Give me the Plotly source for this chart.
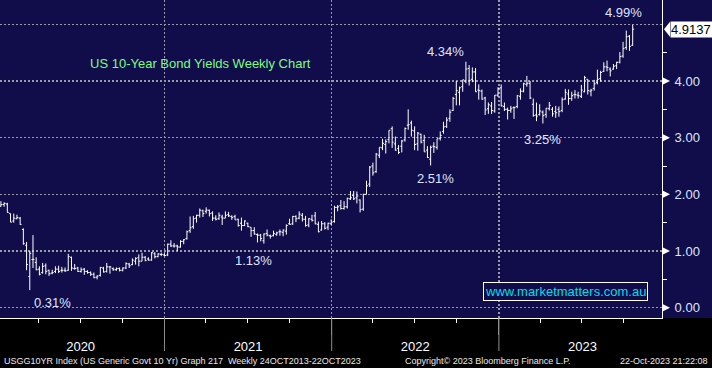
import pandas as pd
import plotly.graph_objects as go

# ---------------- data (weekly bars, week ending Friday) ----------------
weeks = pd.date_range("2020-01-10", periods=198, freq="W-FRI")

open_ = (
    # 2020
    [1.79, 1.82, 1.83, 1.66, 1.53, 1.57, 1.58, 1.38, 1.10, 0.55, 0.85, 0.80, 0.68, 0.62, 0.74, 0.66, 0.61,
     0.64, 0.68, 0.66, 0.66, 0.66, 0.89, 0.69, 0.70, 0.64, 0.68, 0.64, 0.62, 0.59, 0.54, 0.57, 0.70, 0.64,
     0.72, 0.69, 0.67, 0.69, 0.66, 0.70, 0.77, 0.76, 0.82, 0.88, 0.82, 0.89, 0.86, 0.84, 0.95, 0.90, 0.94]
    # 2021
    + [0.93, 0.93, 1.12, 1.09, 1.09, 1.07, 1.17, 1.22, 1.36, 1.43, 1.58, 1.63, 1.71, 1.70, 1.72, 1.67, 1.58,
       1.57, 1.60, 1.58, 1.64, 1.61, 1.61, 1.56, 1.49, 1.45, 1.49, 1.42, 1.36, 1.29, 1.28, 1.18, 1.31, 1.27,
       1.27, 1.29, 1.34, 1.33, 1.35, 1.48, 1.48, 1.61, 1.58, 1.63, 1.56, 1.46, 1.56, 1.62, 1.47, 1.37, 1.48,
       1.42, 1.48]
    # 2022
    + [1.52, 1.77, 1.80, 1.75, 1.78, 1.92, 1.98, 1.94, 1.90, 1.74, 2.00, 2.18, 2.50, 2.40, 2.69, 2.82, 2.88,
       2.97, 3.16, 2.89, 2.81, 2.85, 2.96, 3.22, 3.26, 3.12, 2.89, 3.06, 2.95, 2.78, 2.62, 2.85, 2.83, 2.99,
       3.11, 3.20, 3.34, 3.48, 3.76, 3.80, 3.90, 4.00, 4.22, 4.03, 4.16, 3.84, 3.82, 3.70, 3.51, 3.56, 3.47,
       3.75]
    # 2023
    + [3.88, 3.55, 3.50, 3.48, 3.53, 3.55, 3.73, 3.82, 3.94, 3.96, 3.59, 3.40, 3.41, 3.45, 3.41, 3.51, 3.50,
       3.46, 3.50, 3.48, 3.68, 3.77, 3.69, 3.76, 3.75, 3.73, 3.81, 4.03, 3.82, 3.87, 3.97, 4.04, 4.17, 4.25,
       4.21, 4.21, 4.27, 4.33, 4.44, 4.59, 4.79, 4.63]
)

high = (
    [1.88, 1.86, 1.85, 1.66, 1.66, 1.64, 1.60, 1.40, 1.16, 1.00, 1.28, 0.89, 0.73, 0.79, 0.78, 0.67, 0.67,
     0.73, 0.74, 0.72, 0.71, 0.95, 0.90, 0.77, 0.72, 0.71, 0.70, 0.66, 0.64, 0.62, 0.57, 0.72, 0.72, 0.79,
     0.73, 0.71, 0.71, 0.71, 0.71, 0.80, 0.79, 0.87, 0.89, 0.94, 0.97, 0.91, 0.89, 0.98, 0.98, 0.96, 0.97]
    + [0.96, 1.13, 1.19, 1.14, 1.11, 1.19, 1.21, 1.36, 1.61, 1.62, 1.64, 1.75, 1.73, 1.77, 1.73, 1.70, 1.63,
       1.68, 1.64, 1.70, 1.69, 1.63, 1.64, 1.57, 1.59, 1.54, 1.50, 1.42, 1.42, 1.31, 1.30, 1.31, 1.38, 1.29,
       1.36, 1.34, 1.38, 1.38, 1.47, 1.57, 1.62, 1.63, 1.70, 1.67, 1.62, 1.58, 1.64, 1.69, 1.52, 1.53, 1.51,
       1.50, 1.56]
    + [1.80, 1.81, 1.90, 1.88, 1.94, 2.06, 2.06, 2.05, 1.91, 2.01, 2.24, 2.50, 2.56, 2.73, 2.83, 2.98, 2.97,
       3.13, 3.20, 3.02, 2.87, 2.96, 3.18, 3.50, 3.30, 3.20, 3.10, 3.07, 3.05, 2.85, 2.86, 2.92, 2.98, 3.11,
       3.28, 3.36, 3.50, 3.72, 4.00, 3.90, 4.02, 4.34, 4.28, 4.24, 4.23, 3.94, 3.85, 3.72, 3.62, 3.63, 3.75,
       3.89]
    + [3.94, 3.62, 3.53, 3.56, 3.55, 3.75, 3.87, 3.97, 4.09, 4.00, 3.69, 3.62, 3.59, 3.48, 3.52, 3.63, 3.54,
       3.56, 3.55, 3.71, 3.86, 3.85, 3.81, 3.84, 3.81, 3.93, 4.09, 4.03, 3.86, 4.02, 4.20, 4.18, 4.33, 4.36,
       4.24, 4.30, 4.34, 4.51, 4.69, 4.89, 4.81, 4.99]
)

low = (
    [1.78, 1.78, 1.68, 1.51, 1.50, 1.56, 1.46, 1.11, 0.66, 0.31, 0.70, 0.66, 0.57, 0.60, 0.59, 0.56, 0.59,
     0.61, 0.61, 0.62, 0.63, 0.65, 0.65, 0.67, 0.63, 0.62, 0.58, 0.60, 0.56, 0.52, 0.50, 0.55, 0.62, 0.62,
     0.60, 0.65, 0.65, 0.64, 0.64, 0.68, 0.70, 0.75, 0.76, 0.73, 0.82, 0.82, 0.83, 0.83, 0.87, 0.89, 0.91]
    + [0.91, 0.91, 1.07, 1.06, 1.00, 1.06, 1.12, 1.20, 1.32, 1.39, 1.50, 1.59, 1.60, 1.66, 1.61, 1.53, 1.54,
       1.55, 1.46, 1.58, 1.60, 1.55, 1.55, 1.43, 1.36, 1.44, 1.42, 1.25, 1.29, 1.15, 1.17, 1.13, 1.26, 1.22,
       1.26, 1.27, 1.27, 1.26, 1.29, 1.47, 1.46, 1.51, 1.56, 1.52, 1.43, 1.42, 1.52, 1.47, 1.33, 1.36, 1.38,
       1.37, 1.46]
    + [1.50, 1.70, 1.73, 1.73, 1.75, 1.90, 1.90, 1.84, 1.68, 1.71, 2.00, 2.13, 2.33, 2.38, 2.64, 2.78, 2.72,
       2.90, 2.82, 2.77, 2.71, 2.74, 2.93, 3.14, 3.02, 2.78, 2.77, 2.90, 2.75, 2.64, 2.51, 2.73, 2.79, 2.95,
       3.07, 3.17, 3.28, 3.47, 3.57, 3.57, 3.81, 3.96, 3.92, 3.98, 3.81, 3.67, 3.67, 3.40, 3.42, 3.42, 3.44,
       3.72]
    + [3.55, 3.47, 3.32, 3.44, 3.33, 3.52, 3.67, 3.80, 3.90, 3.68, 3.37, 3.29, 3.39, 3.25, 3.35, 3.48, 3.37,
       3.35, 3.37, 3.45, 3.67, 3.58, 3.65, 3.69, 3.69, 3.70, 3.80, 3.76, 3.73, 3.83, 3.94, 3.99, 4.16, 4.17,
       4.08, 4.20, 4.21, 4.31, 4.41, 4.55, 4.53, 4.62]
)

close = (
    [1.82, 1.84, 1.68, 1.51, 1.58, 1.59, 1.47, 1.13, 0.76, 0.96, 0.85, 0.67, 0.59, 0.73, 0.64, 0.60, 0.62,
     0.68, 0.64, 0.66, 0.65, 0.90, 0.70, 0.69, 0.64, 0.67, 0.64, 0.62, 0.59, 0.53, 0.56, 0.71, 0.63, 0.72,
     0.72, 0.67, 0.69, 0.66, 0.70, 0.78, 0.74, 0.84, 0.87, 0.82, 0.89, 0.83, 0.84, 0.97, 0.90, 0.95, 0.94]
    + [0.92, 1.12, 1.09, 1.09, 1.07, 1.17, 1.20, 1.34, 1.41, 1.57, 1.63, 1.72, 1.66, 1.72, 1.66, 1.58, 1.56,
       1.63, 1.58, 1.63, 1.62, 1.59, 1.55, 1.45, 1.45, 1.53, 1.43, 1.36, 1.30, 1.28, 1.22, 1.30, 1.28, 1.26,
       1.31, 1.32, 1.34, 1.37, 1.45, 1.47, 1.61, 1.57, 1.65, 1.56, 1.45, 1.57, 1.54, 1.48, 1.34, 1.48, 1.40,
       1.49, 1.51]
    + [1.77, 1.78, 1.75, 1.78, 1.93, 1.94, 1.92, 1.97, 1.73, 2.00, 2.15, 2.48, 2.38, 2.71, 2.83, 2.90, 2.93,
       3.13, 2.92, 2.78, 2.74, 2.94, 3.16, 3.23, 3.13, 2.88, 3.08, 2.92, 2.75, 2.65, 2.83, 2.84, 2.98, 3.04,
       3.19, 3.31, 3.45, 3.69, 3.83, 3.88, 4.02, 4.21, 4.01, 4.16, 3.81, 3.83, 3.68, 3.49, 3.58, 3.48, 3.75,
       3.87]
    + [3.56, 3.50, 3.48, 3.51, 3.53, 3.74, 3.82, 3.95, 3.96, 3.70, 3.39, 3.38, 3.47, 3.39, 3.52, 3.57, 3.42,
       3.44, 3.46, 3.67, 3.80, 3.69, 3.74, 3.76, 3.74, 3.84, 4.06, 3.83, 3.84, 3.95, 4.03, 4.15, 4.25, 4.24,
       4.18, 4.26, 4.33, 4.43, 4.57, 4.78, 4.61, 4.9137]
)

# labelled turning points: (week, which price)
label_points = [("2020-03-13", "low"), ("2021-08-06", "low"), ("2022-08-05", "low"),
                ("2022-10-21", "high"), ("2023-04-07", "low"), ("2023-10-20", "high")]
label_offsets = {"2020-03-13": (23, -3), "2021-08-06": (-10, -7), "2022-08-05": (5, -4),
                 "2022-10-21": (-20, 1), "2023-04-07": (0, -7), "2023-10-20": (-9, 3)}

y_ticks = [0, 1, 2, 3, 4, 5]
y_labels = ["0.00", "1.00", "2.00", "3.00", "4.00", ""]
y_minor = [0.5, 1.5, 2.5, 3.5, 4.5]
year_lines = ["2021-01-01", "2022-01-01", "2023-01-01"]

title_text = "US 10-Year Bond Yields Weekly Chart"
footer_left = "USGG10YR Index (US Generic Govt 10 Yr) Graph 217  Weekly 24OCT2013-22OCT2023"
footer_mid = "Copyright\u00a9 2023 Bloomberg Finance L.P."
footer_right = "22-Oct-2023 21:22:08"
watermark = "www.marketmatters.com.au"

# ---------------- style ----------------
NAVY = "#100d4a"
GRID = "#9a9aa2"
LABEL = "#dfe5ff"
FONT = "Liberation Sans, Arial, sans-serif"
W, H = 712, 368
ML, MR, MT, MB = 0, 50, 0, 50
PW, PH = W - ML - MR, H - MT - MB
Y_RANGE = [-0.182, 5.429]
unit_px = PH / (Y_RANGE[1] - Y_RANGE[0])

fig = go.Figure()
fig.add_trace(go.Ohlc(
    x=weeks, open=open_, high=high, low=low, close=close,
    increasing=dict(line=dict(color="white", width=1)),
    decreasing=dict(line=dict(color="white", width=1)),
    tickwidth=0.45, hoverinfo="skip", showlegend=False,
))

fig.update_layout(
    width=W, height=H, margin=dict(l=ML, r=MR, t=MT, b=MB, autoexpand=False),
    paper_bgcolor="black", plot_bgcolor=NAVY, showlegend=False,
    font=dict(family=FONT, color="white"),
)

fig.update_xaxes(
    type="date", range=["2020-01-08", "2023-12-23"],
    dtick="M12", tick0="2020-01-01", ticklabelmode="period", tickformat="%Y",
    showgrid=True, gridcolor=GRID, griddash="2px,2px", gridwidth=1.5,
    showline=True, linecolor="white", linewidth=1,
    ticks="outside", ticklen=16, tickcolor="#8c8c8c", tickwidth=1,
    tickfont=dict(family=FONT, size=13, color="white"),
    minor=dict(dtick="M3", tick0="2020-01-01", ticks="outside", ticklen=4,
               tickcolor="white", showgrid=False),
    rangeslider=dict(visible=False), fixedrange=True,
)

fig.update_yaxes(
    side="right", range=Y_RANGE, tickmode="array", tickvals=y_ticks, ticktext=y_labels,
    showgrid=True, gridcolor=GRID, griddash="2px,2px", gridwidth=1.5, zeroline=False,
    showline=True, linecolor="white", linewidth=1,
    ticks="outside", ticklen=9, tickcolor=NAVY,
    tickfont=dict(family=FONT, size=13, color=LABEL),
    minor=dict(tickmode="array", tickvals=y_minor, ticks="outside", ticklen=4,
               tickcolor="white", showgrid=False),
    fixedrange=True,
)

shapes = []
# navy band behind the right-hand price scale
shapes.append(dict(type="rect", xref="paper", yref="paper", x0=1, x1=1.2, y0=0, y1=1,
                   fillcolor=NAVY, line=dict(width=0), layer="below"))
# long grey year separators under the axis
for d in year_lines:
    shapes.append(dict(type="line", xref="x", yref="paper", x0=d, x1=d, y0=0, y1=-33 / PH,
                       line=dict(color="#8c8c8c", width=1)))
# white arrow heads on the price scale
tri_w = 8 / PW
tri_h = 4 / unit_px
for v, t in zip(y_ticks, y_labels):
    if t:
        shapes.append(dict(type="path", xref="paper", yref="y",
                           path=f"M 1,{v + tri_h} L {1 + tri_w},{v} L 1,{v - tri_h} Z",
                           fillcolor="white", line=dict(width=0)))
# last price tag pointer
last = close[-1]
box_h = 7.5 / unit_px
shapes.append(dict(type="path", xref="paper", yref="y",
                   path=f"M {1 + 2 / PW},{last} L {1 + 8 / PW},{last + box_h} L {1 + 8 / PW},{last - box_h} Z",
                   fillcolor="white", line=dict(width=0)))
fig.update_layout(shapes=shapes)

ann = []
# last price tag
ann.append(dict(xref="paper", yref="y", x=1 + 8 / PW, y=last, xanchor="left", yanchor="middle",
                text=f"{last:.4f}", showarrow=False, bgcolor="white", borderpad=0,
                width=42, height=15, align="left",
                font=dict(family=FONT, size=13, color="black")))
# turning point labels
wk = [d.strftime("%Y-%m-%d") for d in weeks]
for d, kind in label_points:
    i = wk.index(d)
    val = high[i] if kind == "high" else low[i]
    dx, dy = label_offsets[d]
    ann.append(dict(xref="x", yref="y", x=weeks[i], y=val, text=f"{val:.2f}%", showarrow=False,
                    xanchor="center", yanchor="bottom" if kind == "high" else "top",
                    xshift=dx, yshift=dy, font=dict(family=FONT, size=13, color=LABEL)))
# title
ann.append(dict(xref="paper", yref="paper", x=200 / PW, y=(PH - 64) / PH, text=title_text,
                showarrow=False, xanchor="center", yanchor="middle",
                font=dict(family=FONT, size=13, color="#7dfd7d")))
# watermark
ann.append(dict(xref="paper", yref="paper", x=565.5 / PW, y=(PH - 291.3) / PH, text=watermark,
                showarrow=False, xanchor="center", yanchor="middle", bgcolor=NAVY,
                bordercolor="white", borderwidth=1, borderpad=1,
                font=dict(family=FONT, size=13, color="#00dfe8")))
# footer
fy = (PH - 361) / PH
ff = dict(family="Liberation Sans, Arial", size=9, color="#e8e8e8")
ann.append(dict(xref="paper", yref="paper", x=2 / PW, y=fy, text=footer_left, showarrow=False,
                xanchor="left", yanchor="middle", font=ff))
ann.append(dict(xref="paper", yref="paper", x=403 / PW, y=fy, text=footer_mid, showarrow=False,
                xanchor="left", yanchor="middle", font=ff))
ann.append(dict(xref="paper", yref="paper", x=710 / PW, y=fy, text=footer_right, showarrow=False,
                xanchor="right", yanchor="middle", font=ff))
fig.update_layout(annotations=ann)

fig.write_html("out.html", config={"displayModeBar": False, "staticPlot": True})

# remove the browser's default page margin so the figure sits at the window's corner
with open("out.html", encoding="utf-8") as f:
    html = f.read()
html = html.replace("<head>", "<head><style>html,body{margin:0;padding:0;overflow:hidden;}</style>", 1)
with open("out.html", "w", encoding="utf-8") as f:
    f.write(html)
